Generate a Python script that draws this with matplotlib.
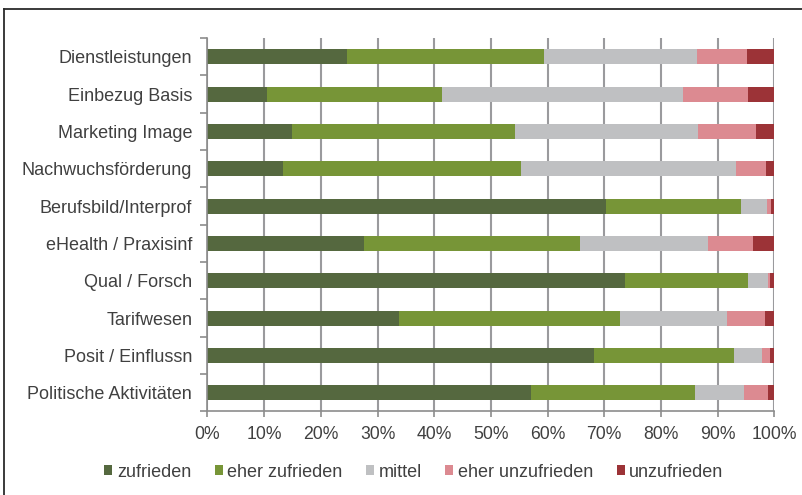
import matplotlib.pyplot as plt
import numpy as np
from matplotlib.lines import Line2D
from matplotlib.ticker import FixedLocator, PercentFormatter

plt.rcParams['font.family'] = ['Liberation Sans', 'DejaVu Sans']

# Kategorien von oben nach unten
categories = [
    "Dienstleistungen",
    "Einbezug Basis",
    "Marketing Image",
    "Nachwuchsförderung",
    "Berufsbild/Interprof",
    "eHealth / Praxisinf",
    "Qual / Forsch",
    "Tarifwesen",
    "Posit / Einflussn",
    "Politische Aktivitäten",
]

# Anteile in Prozent je Zufriedenheitsstufe
zufrieden        = [24.6, 10.5, 14.9, 13.3, 70.3, 27.6, 73.7, 33.7, 68.1, 57.0]
eher_zufrieden   = [34.8, 30.9, 39.4, 42.0, 23.8, 38.2, 21.7, 39.1, 24.7, 29.0]
mittel           = [27.0, 42.4, 32.3, 37.9,  4.6, 22.5,  3.5, 18.8,  5.0,  8.7]
eher_unzufrieden = [ 8.7, 11.6, 10.2,  5.3,  0.7,  8.0,  0.4,  6.8,  1.4,  4.2]
unzufrieden      = [ 4.9,  4.6,  3.2,  1.5,  0.6,  3.7,  0.7,  1.6,  0.8,  1.1]

series = {
    "zufrieden": (zufrieden, "#55683f"),
    "eher zufrieden": (eher_zufrieden, "#779537"),
    "mittel": (mittel, "#bfc0c2"),
    "eher unzufrieden": (eher_unzufrieden, "#dc8a91"),
    "unzufrieden": (unzufrieden, "#9c3337"),
}

txt_col = "#404040"
axis_col = "#8c8c8c"

fig = plt.figure(figsize=(8.02, 4.95), dpi=100)
ax = fig.add_axes([0.2587, 0.1687, 0.9655 - 0.2587, 0.9232 - 0.1687])

y = np.arange(len(categories))
left = np.zeros(len(categories))
for name, (vals, col) in series.items():
    vals = np.array(vals)
    ax.barh(y, vals, left=left, height=0.4, color=col, label=name, zorder=3)
    left += vals

ax.set_xlim(0, 100)
ax.set_ylim(len(categories) - 0.5, -0.5)

# x-Achse
ax.xaxis.set_major_locator(FixedLocator(np.arange(0, 101, 10)))
ax.xaxis.set_major_formatter(PercentFormatter(decimals=0))
ax.tick_params(axis="x", direction="out", length=4, width=1.2, color=axis_col,
               labelsize=12.7, labelcolor=txt_col, pad=6.5)
ax.grid(axis="x", color="#9a9a9d", linewidth=1.5, zorder=0)

# y-Achse: Beschriftung mittig, Striche an den Kategoriegrenzen
ax.set_yticks(y)
ax.set_yticklabels(categories)
ax.tick_params(axis="y", which="major", length=0, labelsize=13,
               labelcolor=txt_col, pad=11)
ax.yaxis.set_minor_locator(FixedLocator(np.arange(-0.5, len(categories), 1)))
ax.tick_params(axis="y", which="minor", direction="out", length=5, width=1.2,
               color=axis_col)

for side in ("top", "right"):
    ax.spines[side].set_visible(False)
for side in ("left", "bottom"):
    ax.spines[side].set_color(axis_col)
    ax.spines[side].set_linewidth(1.2)
    ax.spines[side].set_zorder(4)

leg = fig.legend(loc="center", bbox_to_anchor=(0.516, 0.046), ncol=5,
                 frameon=False, fontsize=13, handlelength=0.45,
                 handleheight=0.45, handletextpad=0.25, columnspacing=1.3,
                 labelcolor=txt_col)

# Rahmen um das Diagramm
fig.add_artist(Line2D([4 / 802, 1.0], [1 - 9 / 495, 1 - 9 / 495],
                      transform=fig.transFigure, color="#2b2b2b", linewidth=1.3))
fig.add_artist(Line2D([4 / 802, 4 / 802], [0.0, 1 - 9 / 495],
                      transform=fig.transFigure, color="#2b2b2b", linewidth=1.3))

fig.savefig("out.png", dpi=100)
